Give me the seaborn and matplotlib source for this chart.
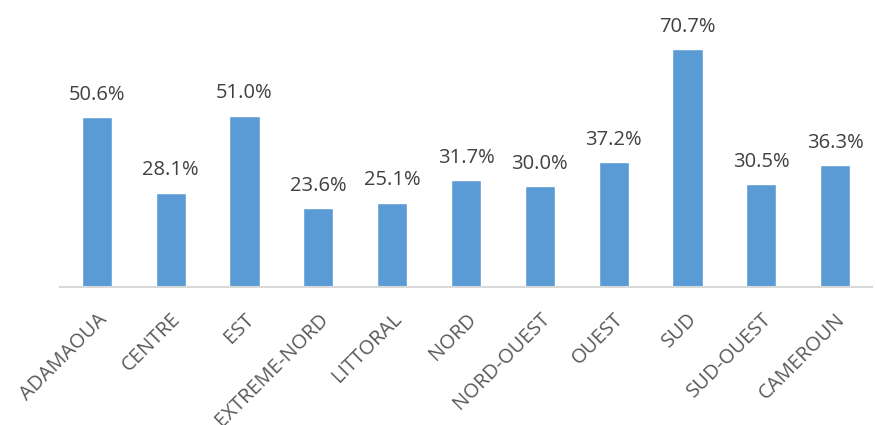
import matplotlib
matplotlib.use("Agg")
import matplotlib.pyplot as plt
import seaborn as sns
import pandas as pd

regions = ["ADAMAOUA", "CENTRE", "EST", "EXTREME-NORD", "LITTORAL", "NORD",
           "NORD-OUEST", "OUEST", "SUD", "SUD-OUEST", "CAMEROUN"]
values = [50.6, 28.1, 51.0, 23.6, 25.1, 31.7, 30.0, 37.2, 70.7, 30.5, 36.3]

sns.set_theme(style="white")
plt.rcParams['font.family'] = ['Open Sans', 'DejaVu Sans']

df = pd.DataFrame({"region": regions, "value": values})

fig = plt.figure(figsize=(8.77, 4.25), dpi=100)
ax = fig.add_axes([60/877, 138/425, 812/877, 269/425])
sns.barplot(data=df, x="region", y="value", color="#5B9BD5", saturation=1,
            width=0.41, ax=ax)
ax.set_ylim(0, 80)
ax.set_xlim(-0.5, len(regions) - 0.5)
for i, v in enumerate(values):
    ax.text(i, v + 3.6, f"{v:.1f}%", ha="center", va="bottom",
            fontsize=14.5, color="#404040")
ax.set_xlabel("")
ax.set_ylabel("")
ax.set_yticks([])
for s in ["left", "right", "top"]:
    ax.spines[s].set_visible(False)
ax.spines["bottom"].set_color("#D9D9D9")
ax.spines["bottom"].set_linewidth(1.5)
ax.tick_params(axis="x", length=0, pad=16)
ax.set_xticks(range(len(regions)))
ax.set_xticklabels(regions, rotation=45, ha="right", rotation_mode="anchor",
                   fontsize=14.5, color="#595959")
fig.savefig("out.png", dpi=100)
